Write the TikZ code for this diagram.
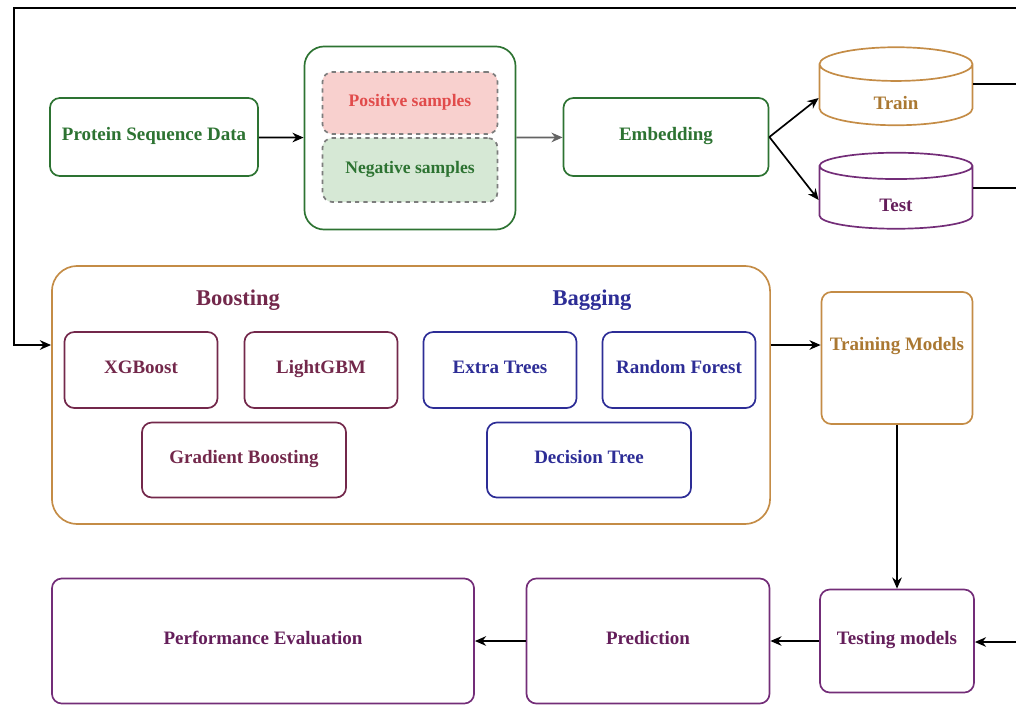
\documentclass[tikz,border=0pt]{standalone}
\usepackage{fontspec}
\setmainfont{Liberation Serif}
\usetikzlibrary{arrows.meta,shapes.geometric}

\definecolor{pgreen}{RGB}{45,115,50}
\definecolor{posred}{RGB}{225,75,75}
\definecolor{posfill}{RGB}{248,208,206}
\definecolor{negfill}{RGB}{214,232,213}
\definecolor{dashgray}{RGB}{125,125,125}
\definecolor{ochre}{RGB}{196,140,70}
\definecolor{ochretext}{RGB}{170,120,50}
\definecolor{plum}{RGB}{115,45,120}
\definecolor{plumtext}{RGB}{100,30,90}
\definecolor{maroon}{RGB}{115,40,75}
\definecolor{navy}{RGB}{45,45,150}

\begin{document}
\begin{tikzpicture}[x=0.025cm, y=-0.025cm, >={Stealth[length=2.8mm, width=2.4mm]},
	every node/.style={font=\bfseries\fontsize{13.5}{16}\selectfont, text height=0.7em, text depth=0.2em},
	box/.style={draw, line width=1.2pt, rounded corners=7pt, align=center},
	dbase/.style={draw, line width=1.2pt, shape=cylinder, shape border rotate=90, aspect=0.62},
	link/.style={->, line width=1.2pt}]
	\useasboundingbox (0,0) rectangle (1016,705);

	% top row
	\node[box, pgreen, minimum width=5.2cm, minimum height=1.95cm] (prot) at (154,137) {Protein Sequence Data};
	\node[box, pgreen, rounded corners=14pt, minimum width=5.275cm, minimum height=4.575cm] (samples) at (410,138) {};
	\node[box, draw=dashgray, dashed, fill=posfill, text=posred, font=\bfseries\fontsize{12.5}{15}\selectfont, minimum width=4.375cm, minimum height=1.55cm] (pos) at (410,103) {Positive samples};
	\node[box, draw=dashgray, dashed, fill=negfill, text=pgreen, font=\bfseries\fontsize{12.5}{15}\selectfont, minimum width=4.375cm, minimum height=1.6cm] (neg) at (410,170) {Negative samples};
	\node[box, pgreen, minimum width=5.125cm, minimum height=1.95cm] (emb) at (666,137) {Embedding};
	\node[dbase, draw=ochre, text=ochretext, minimum width=3.825cm, minimum height=1.95cm] (train) at (896,98) {\raisebox{-0.9ex}{Train}};
	\node[dbase, draw=plum, text=plumtext, minimum width=3.825cm, minimum height=1.9cm] (test) at (896,200) {\raisebox{-0.9ex}{Test}};

	% ensemble block
	\node[box, draw=ochre, rounded corners=18pt, minimum width=17.95cm, minimum height=6.45cm] (ens) at (411,395) {};
	\node[maroon, font=\bfseries\fontsize{16}{19}\selectfont] (boost) at (238,302) {Boosting};
	\node[navy, font=\bfseries\fontsize{16}{19}\selectfont] (bag) at (592,302) {Bagging};
	\node[box, maroon, minimum width=3.825cm, minimum height=1.9cm] (xgb) at (141,370) {XGBoost};
	\node[box, maroon, minimum width=3.825cm, minimum height=1.9cm] (lgbm) at (321,370) {LightGBM};
	\node[box, navy, minimum width=3.825cm, minimum height=1.9cm] (et) at (500,370) {Extra Trees};
	\node[box, navy, minimum width=3.825cm, minimum height=1.9cm] (rf) at (679,370) {Random Forest};
	\node[box, maroon, minimum width=5.1cm, minimum height=1.875cm] (gb) at (244,460) {Gradient Boosting};
	\node[box, navy, minimum width=5.1cm, minimum height=1.875cm] (dt) at (589,460) {Decision Tree};

	% right column and bottom row
	\node[box, draw=ochre, text=ochretext, minimum width=3.775cm, minimum height=3.3cm] (trainm) at (897,358) {\raisebox{1.3ex}{Training Models}};
	\node[box, draw=plum, text=plumtext, minimum width=3.85cm, minimum height=2.575cm] (testm) at (897,641) {Testing models};
	\node[box, draw=plum, text=plumtext, minimum width=6.075cm, minimum height=3.125cm] (pred) at (648,641) {Prediction};
	\node[box, draw=plum, text=plumtext, minimum width=10.55cm, minimum height=3.125cm] (perf) at (263,641) {Performance Evaluation};

	\coordinate (loopin) at (1016,8);
	\coordinate (trainout) at (1016,84);
	\coordinate (testout) at (1016,188);
	\coordinate (testin) at (1016,642);

	% connectors
	\draw[link] (prot) -- (samples);
	\draw[link, dashgray!80!black] (samples) -- (emb);
	\draw[link] (emb.east) -- (train.west);
	\draw[link] (emb.east) -- (test.west);
	\draw[line width=1.2pt] (train.east |- trainout) -- (trainout);
	\draw[line width=1.2pt] (test.east |- testout) -- (testout);
	\draw[link] (loopin) -| (14,345) -- (ens.west |- 0,345);
	\draw[link] (ens.east |- trainm.west) ++(0,-13) -- ([yshift=13*0.025cm]trainm.west);
	\draw[link] (trainm) -- (testm);
	\draw[link] (testin) -- (testm.east |- testin);
	\draw[link] (testm) -- (pred);
	\draw[link] (pred) -- (perf);
\end{tikzpicture}
\end{document}
